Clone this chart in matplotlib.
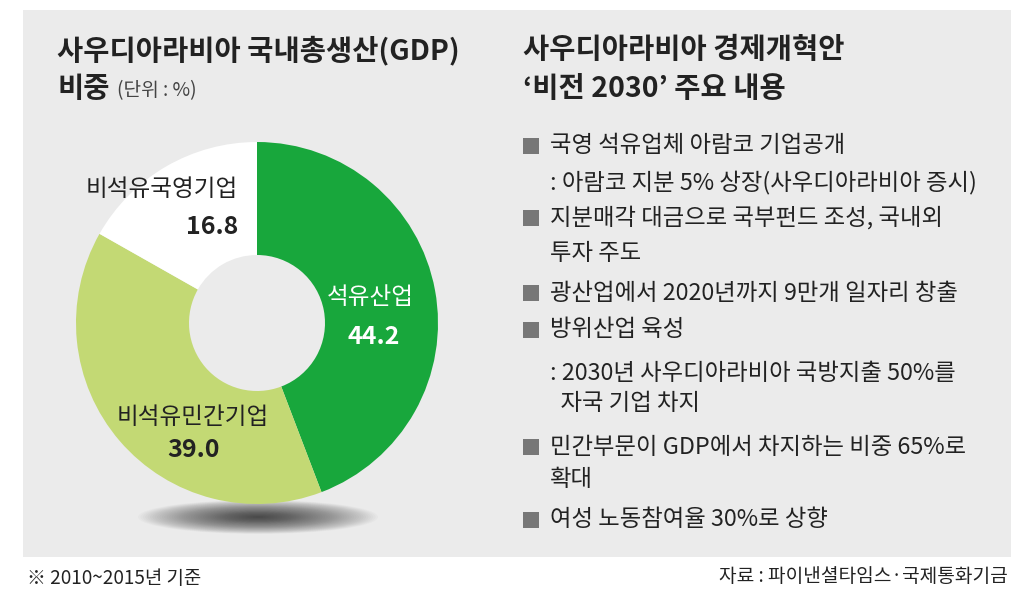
import matplotlib
matplotlib.use("Agg")
import matplotlib.pyplot as plt
from matplotlib.patches import Rectangle, Ellipse

plt.rcParams['font.family'] = ['Noto Sans CJK KR', 'DejaVu Sans']

# ---- data ----
categories = ['석유산업', '비석유민간기업', '비석유국영기업']
values = [44.2, 39.0, 16.8]
value_labels = ['44.2', '39.0', '16.8']
colors = ['#18a73c', '#c3d974', '#ffffff']

left_title_1 = '사우디아라비아 국내총생산(GDP)'
left_title_2 = '비중'
unit_text = '(단위 : %)'
right_title_1 = '사우디아라비아 경제개혁안'
right_title_2 = '‘비전 2030’ 주요 내용'
bullets = [
    ['국영 석유업체 아람코 기업공개', ': 아람코 지분 5% 상장(사우디아라비아 증시)'],
    ['지분매각 대금으로 국부펀드 조성, 국내외', '투자 주도'],
    ['광산업에서 2020년까지 9만개 일자리 창출'],
    ['방위산업 육성', ': 2030년 사우디아라비아 국방지출 50%를', '  자국 기업 차지'],
    ['민간부문이 GDP에서 차지하는 비중 65%로', '확대'],
    ['여성 노동참여율 30%로 상향'],
]
footnote = '※ 2010~2015년 기준'
source = '자료 : 파이낸셜타임스·국제통화기금'

W, H = 1024, 599
fig = plt.figure(figsize=(W / 100, H / 100), dpi=100)
fig.patch.set_facecolor('white')

bg = fig.add_axes([0, 0, 1, 1])
bg.set_xlim(0, W)
bg.set_ylim(H, 0)
bg.axis('off')
bg.set_zorder(0)

bg.add_patch(Rectangle((23, 10), 988, 547, facecolor='#ebebeb', edgecolor='none', zorder=0))

# soft shadow under the donut
n = 50
for i in range(n):
    f = 1 - i / n
    bg.add_patch(Ellipse((258, 517), 240 * f, 34 * f, facecolor='black',
                         edgecolor='none', alpha=0.019, zorder=1))

txt = '#222222'
# left titles
bg.text(57, 50, left_title_1, fontsize=20.5, fontweight='bold', color=txt, va='center', ha='left')
bg.text(57, 89, left_title_2, fontsize=20.5, fontweight='bold', color=txt, va='center', ha='left')
bg.text(117, 91, unit_text, fontsize=13.8, color='#444444', va='center', ha='left')

# right titles
bg.text(523, 50, right_title_1, fontsize=20.5, fontweight='bold', color=txt, va='center', ha='left')
bg.text(523, 89, right_title_2, fontsize=20.5, fontweight='bold', color=txt, va='center', ha='left')

# bullets
line_y = [[146, 182], [218, 253], [293], [330, 373, 403], [447, 480], [520]]
for item, ys in zip(bullets, line_y):
    bg.add_patch(Rectangle((523, ys[0] - 8), 16, 16, facecolor='#777777', edgecolor='none', zorder=2))
    for line, y in zip(item, ys):
        bg.text(550, y, line, fontsize=16.8, color=txt, va='center', ha='left')

bg.text(27, 578, footnote, fontsize=13.6, color=txt, va='center', ha='left')
bg.text(1008, 577, source, fontsize=13.8, color=txt, va='center', ha='right')

# donut
cx, cy, R, r = 257, 323, 181, 68
pie_ax = fig.add_axes([(cx - R) / W, 1 - (cy + R) / H, 2 * R / W, 2 * R / H])
pie_ax.set_zorder(1)
pie_ax.pie(values, colors=colors, startangle=90, counterclock=False, radius=1,
           wedgeprops=dict(width=1 - r / R, edgecolor='none'))
pie_ax.set_xlim(-1, 1)
pie_ax.set_ylim(-1, 1)
pie_ax.axis('off')

# overlay for labels (pixel coords)
ov = fig.add_axes([0, 0, 1, 1])
ov.set_xlim(0, W)
ov.set_ylim(H, 0)
ov.axis('off')
ov.patch.set_alpha(0)
ov.set_zorder(2)

ov.text(370, 297, categories[0], fontsize=17, color='white', va='center', ha='center')
ov.text(374, 337, value_labels[0], fontsize=18, fontweight='bold', color='white', va='center', ha='center')
ov.text(193, 417, categories[1], fontsize=17, color=txt, va='center', ha='center')
ov.text(194, 450, value_labels[1], fontsize=18, fontweight='bold', color=txt, va='center', ha='center')
ov.text(238, 190, categories[2], fontsize=17, color=txt, va='center', ha='right')
ov.text(238, 227, value_labels[2], fontsize=18, fontweight='bold', color=txt, va='center', ha='right')

fig.savefig('out.png', dpi=100)
